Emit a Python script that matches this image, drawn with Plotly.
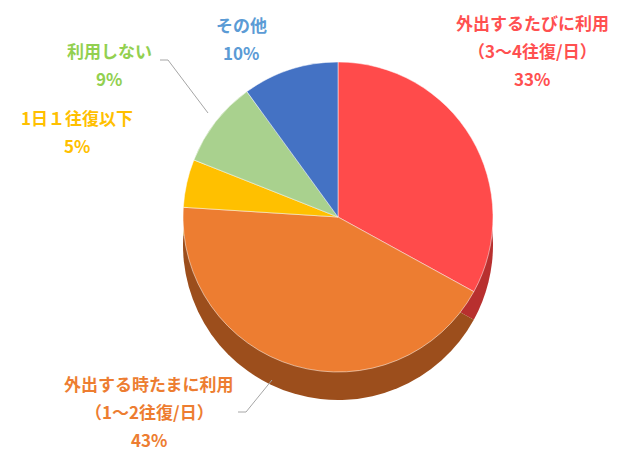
import plotly.graph_objects as go

# 利用頻度の内訳 (clockwise from 12 o'clock)
names = ["外出するたびに利用", "外出する時たまに利用", "1日１往復以下", "利用しない", "その他"]
notes = ["（3～4往復/日）", "（1～2往復/日）", "", "", ""]
values = [33, 43, 5, 9, 10]

top_colors = ["#FF4B4B", "#ED7D31", "#FFC000", "#A9D18E", "#4472C4"]
side_colors = ["#B8302F", "#9C4E1C", "#B88A00", "#6F8F5A", "#2F5597"]
text_colors = ["#FF5050", "#ED7D31", "#FFC000", "#92D050", "#5B9BD5"]

# label anchor (x center, y of first line) in pixels from top-left
label_pos = [(524, 20), (141, 381), (69, 115), (101, 48), (233, 22)]

W, H = 625, 452

fig = go.Figure()

# darker copy underneath gives the pie some thickness
fig.add_trace(go.Pie(
    values=values, labels=names, sort=False, direction="clockwise",
    marker=dict(colors=side_colors, line=dict(width=0)),
    textinfo="none", hoverinfo="skip",
    domain=dict(x=[175 / W, 485 / W], y=[60 / H, 370 / H]),
    showlegend=False,
))
fig.add_trace(go.Pie(
    values=values, labels=names, sort=False, direction="clockwise",
    marker=dict(colors=top_colors, line=dict(color="white", width=0.5)),
    textinfo="none",
    domain=dict(x=[175 / W, 485 / W], y=[88 / H, 398 / H]),
    showlegend=False,
))

font = "Noto Sans CJK JP"
for i, (x, y) in enumerate(label_pos):
    lines = [names[i]]
    if notes[i]:
        lines.append(notes[i])
    lines.append(f"{values[i]}%")
    gap = 28
    for j, t in enumerate(lines):
        fig.add_annotation(
            x=x / W, y=1 - (y - 6 + j * gap) / H, xref="paper", yref="paper",
            text=f"<b>{t}</b>", showarrow=False, xanchor="center", yanchor="middle",
            font=dict(family=font, size=17, color=text_colors[i]),
        )

# leader lines
leaders = [
    [(152, 52), (160, 52), (200, 105)],
    [(230, 404), (238, 404), (264, 372)],
]
for pts in leaders:
    for (x0, y0), (x1, y1) in zip(pts[:-1], pts[1:]):
        fig.add_shape(type="line", xref="paper", yref="paper",
                      x0=x0 / W, y0=1 - y0 / H, x1=x1 / W, y1=1 - y1 / H,
                      line=dict(color="#A6A6A6", width=1))

fig.update_layout(
    width=W, height=H,
    margin=dict(l=0, r=0, t=0, b=0),
    paper_bgcolor="white", plot_bgcolor="white",
)

fig.write_html("out.html")
